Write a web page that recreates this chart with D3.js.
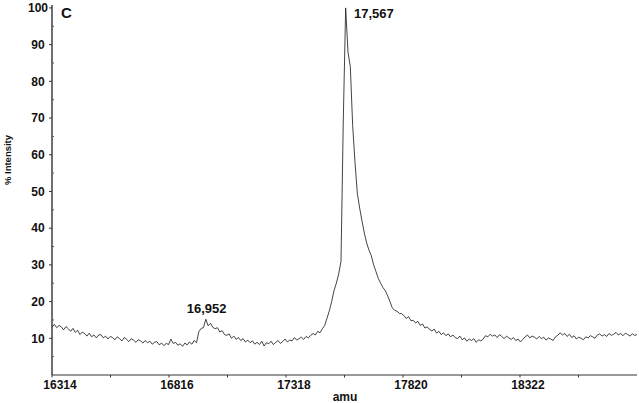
<!DOCTYPE html>
<html>
<head>
<meta charset="utf-8">
<script src="https://cdn.jsdelivr.net/npm/d3@7"></script>
<style>
  body { margin: 0; background: #fff; }
  text { font-family: "Liberation Sans", Arial, sans-serif; font-weight: bold; fill: #111; }
</style>
</head>
<body>
<div id="chart"></div>
<script>
"use strict";

// spectrum sampled every 10 amu starting at 16314
var amuStart = 16314;
var amuStep = 10;
var intensity = [
  13.0, 13.8, 12.9, 13.5, 13.1, 12.3, 13.2, 12.6, 11.9, 12.7,
  11.6, 12.2, 11.0, 11.7, 11.3, 10.6, 11.4, 10.4, 10.9, 10.1,
  10.9, 11.0, 10.1, 10.6, 9.8, 10.5, 10.2, 9.6, 10.4, 9.9,
  9.3, 10.2, 9.7, 9.1, 9.9, 9.5, 8.9, 9.6, 9.3, 8.7,
  9.4, 8.8, 9.2, 8.4, 8.9, 9.1, 8.2, 8.7, 8.0, 8.6,
  8.3, 9.8, 8.6, 8.9, 8.1, 8.5, 7.8, 8.7, 8.2, 9.0,
  8.4, 9.4, 8.8, 11.8, 12.7, 12.9, 15.2, 13.4, 14.1, 13.0,
  12.6, 12.9, 11.7, 12.1, 11.0, 10.8, 11.2, 10.0, 10.6, 9.7,
  10.2, 9.4, 9.9, 9.0, 9.5, 8.8, 9.3, 8.4, 8.9, 8.3,
  9.2, 7.9, 8.8, 8.5, 9.2, 8.3, 8.9, 9.4, 8.6, 9.1,
  9.8, 9.0, 9.5, 9.3, 10.2, 9.5, 9.9, 10.3, 9.7, 10.5,
  10.1, 10.8, 11.3, 10.9, 11.9, 11.5, 12.6, 13.5, 15.5, 17.5,
  20.0, 23.0, 25.0, 27.5, 31.0, 70.0, 100.0, 88.0, 84.0, 68.0,
  58.0, 49.5, 45.5, 42.0, 38.7, 36.0, 34.0, 32.5, 30.0, 28.2,
  26.3, 25.0, 23.8, 23.0, 21.6, 20.0, 18.3, 17.6, 17.4, 16.8,
  16.7, 16.2, 15.4, 15.9, 14.8, 14.9, 14.2, 14.6, 13.5, 13.9,
  12.8, 13.1, 12.4, 12.0, 12.5, 11.4, 11.9, 11.0, 11.5, 10.7,
  11.2, 10.4, 10.9, 10.2, 9.9, 10.6, 9.6, 10.1, 9.2, 9.8,
  9.4, 9.9, 8.9, 9.6, 9.3, 9.8, 10.7, 10.4, 11.1, 10.6,
  10.9, 10.2, 11.0, 10.5, 9.9, 10.6, 10.1, 9.7, 10.2, 9.4,
  9.8, 9.0, 9.7, 10.4, 10.9, 10.1, 10.6, 10.3, 9.8, 10.5,
  9.9, 10.3, 9.5, 10.1, 9.8, 9.4, 10.4, 10.8, 11.5, 10.9,
  11.3, 10.5, 11.1, 10.2, 10.7, 9.8, 10.3, 10.0, 9.6, 10.4,
  10.1, 10.7, 10.4, 10.0, 10.9, 11.2, 10.6, 11.0, 10.5, 11.3,
  10.8, 11.1, 11.6, 10.9, 11.3, 10.7, 11.4, 11.0, 10.6, 11.2,
  10.8, 11.0
];

var xTickValues = [16314, 16816, 17318, 17820, 18322];
var xMinorValues = [16565, 17067, 17569, 18071, 18573];
var yTickValues = [10, 20, 30, 40, 50, 60, 70, 80, 90, 100];
var yMinorValues = [5, 15, 25, 35, 45, 55, 65, 75, 85, 95];

var peakLabels = [
  { amu: 17567, value: 100, text: "17,567" },
  { amu: 16952, value: 15, text: "16,952" }
];

var width = 639;
var height = 403;
var plotLeft = 52, plotRight = 637, plotTop = 5, plotBottom = 375;

var svg = d3.select("#chart").append("svg")
  .attr("width", width)
  .attr("height", height);

var x = d3.scaleLinear()
  .domain([16314, 18824])
  .range([plotLeft, plotRight]);

var y = d3.scaleLinear()
  .domain([0, 100.8])
  .range([plotBottom, plotTop]);

var points = intensity.map(function(v, i) {
  return { amu: amuStart + i * amuStep, value: v };
});

// axes lines
svg.append("line")
  .attr("x1", plotLeft).attr("x2", plotRight)
  .attr("y1", plotBottom).attr("y2", plotBottom)
  .attr("stroke", "#333").attr("stroke-width", 1);

svg.append("line")
  .attr("x1", plotLeft).attr("x2", plotLeft)
  .attr("y1", plotTop).attr("y2", plotBottom)
  .attr("stroke", "#111").attr("stroke-width", 1.2);

// x ticks
svg.selectAll(".xtick")
  .data(xTickValues.concat(xMinorValues))
  .enter().append("line")
  .attr("class", "xtick")
  .attr("x1", function(d) { return x(d); })
  .attr("x2", function(d) { return x(d); })
  .attr("y1", plotBottom).attr("y2", plotBottom + 2.5)
  .attr("stroke", "#333");

svg.selectAll(".xlabel")
  .data(xTickValues)
  .enter().append("text")
  .attr("class", "xlabel")
  .attr("x", function(d) { return x(d) + 8; })
  .attr("y", 389)
  .attr("text-anchor", "middle")
  .style("font-size", "12px")
  .text(function(d) { return d; });

// y ticks
svg.selectAll(".ytick")
  .data(yTickValues)
  .enter().append("line")
  .attr("class", "ytick")
  .attr("x1", plotLeft - 3).attr("x2", plotLeft)
  .attr("y1", function(d) { return y(d); })
  .attr("y2", function(d) { return y(d); })
  .attr("stroke", "#333");

svg.selectAll(".yminor")
  .data(yMinorValues)
  .enter().append("line")
  .attr("class", "yminor")
  .attr("x1", plotLeft).attr("x2", plotLeft + 2)
  .attr("y1", function(d) { return y(d); })
  .attr("y2", function(d) { return y(d); })
  .attr("stroke", "#555");

svg.selectAll(".ylabel")
  .data(yTickValues)
  .enter().append("text")
  .attr("class", "ylabel")
  .attr("x", 38)
  .attr("y", function(d) { return y(d); })
  .attr("dy", "0.36em")
  .attr("text-anchor", "middle")
  .style("font-size", "12px")
  .text(function(d) { return d; });

// axis titles
svg.append("text")
  .attr("x", 345)
  .attr("y", 400.5)
  .attr("text-anchor", "middle")
  .style("font-size", "12px")
  .text("amu");

svg.append("text")
  .attr("transform", "translate(11,160) rotate(-90)")
  .attr("text-anchor", "middle")
  .style("font-size", "9.5px")
  .text("% Intensity");

svg.append("text")
  .attr("x", 61)
  .attr("y", 18)
  .style("font-size", "15px")
  .text("C");

// spectrum trace
var line = d3.line()
  .x(function(d) { return x(d.amu); })
  .y(function(d) { return y(d.value); });

svg.append("path")
  .datum(points)
  .attr("fill", "none")
  .attr("stroke", "#222")
  .attr("stroke-width", 0.85)
  .attr("stroke-linejoin", "round")
  .attr("d", line);

// peak annotations
svg.selectAll(".peak")
  .data(peakLabels)
  .enter().append("text")
  .attr("class", "peak")
  .attr("x", function(d, i) { return i === 0 ? x(d.amu) + 10 : x(d.amu) - 14; })
  .attr("y", function(d, i) { return i === 0 ? 18 : 313; })
  .style("font-size", "13px")
  .text(function(d) { return d.text; });
</script>
</body>
</html>
